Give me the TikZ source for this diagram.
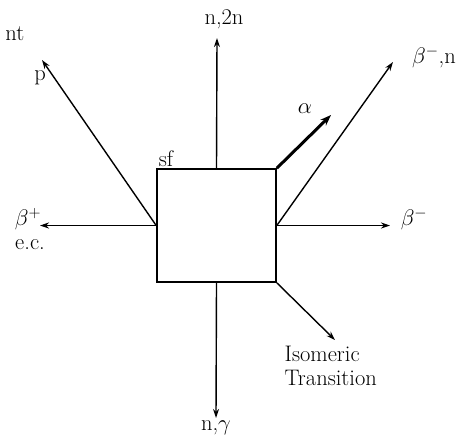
\RequirePackage{fix-cm}
\documentclass[tikz,border=0pt]{standalone}
\usetikzlibrary{arrows.meta}
\begin{document}
\begin{tikzpicture}[x=1pt,y=-1pt, line width=1.4pt,
  arr/.style={-{Stealth[length=9pt,width=6pt]}},
  lbl/.style={font=\fontsize{22.5}{24}\selectfont, inner sep=0pt}]
\useasboundingbox (0,0) rectangle (473,445);
\node[draw, line width=1.6pt, minimum width=119pt, minimum height=113pt, inner sep=0pt] (box) at (216.5,225.5) {};
\coordinate (L) at (box.west);
\coordinate (R) at (box.east);
\coordinate (tTop) at (217,38);
\coordinate (tBot) at (216,418);
\coordinate (tP) at (42,60);
\coordinate (tBp) at (40,225.5);
\coordinate (tBm) at (390,225.5);
\coordinate (tBn) at (393,62);
\coordinate (tA) at (331,115);
\coordinate (tI) at (335,340);
% labels
\node[lbl] (l2n) at (224,19) {n,2n};
\node[lbl] (lp) at (40,78) {p};
\node[lbl, anchor=east] (lnt) at (25,34) {nt};
\node[lbl] (lbp) at (28,219) {$\beta^+$};
\node[lbl] (lec) at (30,245) {e.c.};
\node[lbl] (lbm) at (414,219) {$\beta^-$};
\node[lbl] (lbn) at (434,57) {$\beta^-$,n};
\node[lbl] (la) at (305,109) {$\alpha$};
\node[lbl] (lsf) at (166,159) {sf};
\node[lbl, align=left, anchor=north west] (liso) at (284,345) {Isomeric\\Transition};
\node[lbl] (lng) at (216,428) {n,$\gamma$};
% arrows
\draw[arr] (box.north) -- (tTop);
\draw[arr] (box.south) -- (tBot);
\draw[arr] (L) -- (tP);
\draw[arr] (L) -- (tBp);
\draw[arr] (R) -- (tBm);
\draw[arr] (R) -- (tBn);
\draw[-{Stealth[length=11pt,width=8pt]}, line width=3pt] (box.north east) -- (tA);
\draw[arr] (box.south east) -- (tI);
\end{tikzpicture}
\end{document}
